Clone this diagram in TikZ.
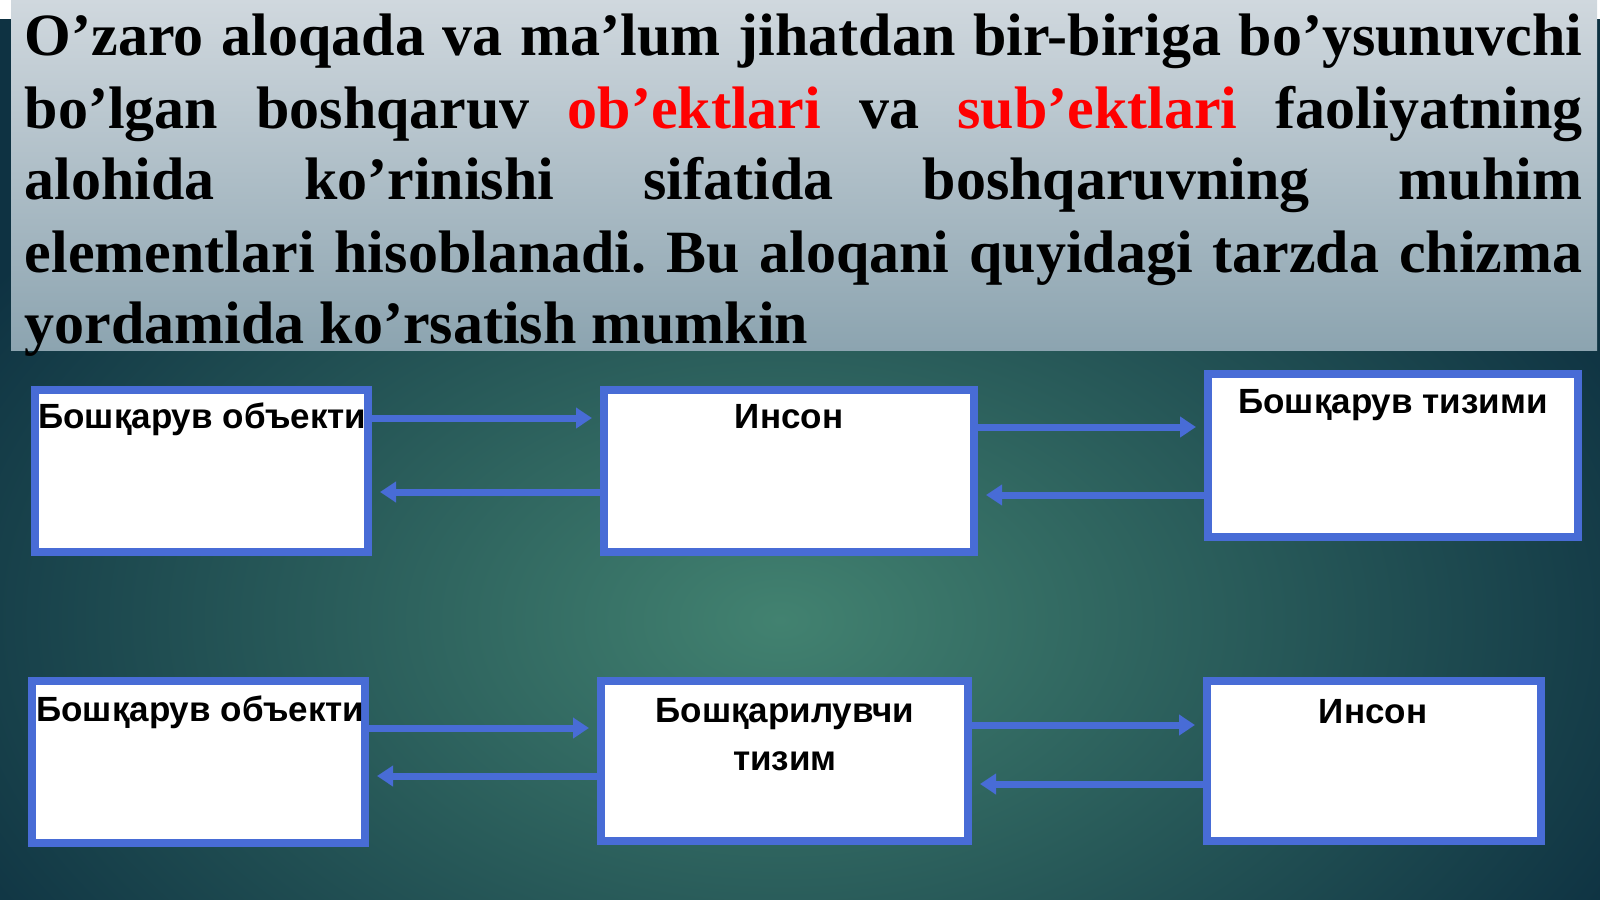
\documentclass[tikz,border=0pt]{standalone}
\usepackage{fontspec}
\setmainfont{Liberation Serif}
\setsansfont{Liberation Sans}
\usetikzlibrary{arrows.meta}
\definecolor{boxblue}{RGB}{72,108,214}
\definecolor{bgin}{RGB}{66,130,112}
\definecolor{bgout}{RGB}{14,50,66}
\definecolor{bantop}{RGB}{208,216,222}
\definecolor{banbot}{RGB}{140,164,176}
\tikzset{
  box/.style={draw=boxblue, line width=4pt, fill=white, inner sep=0pt},
  boxtext/.style={font=\sffamily\bfseries\fontsize{17.5}{24}\selectfont, inner sep=0pt, align=center},
  flow/.style={boxblue, line width=3.5pt, -{Triangle[length=8pt,width=10pt]}, shorten >=4pt}
}
\begin{document}
\begin{tikzpicture}[x=0.5pt,y=-0.5pt]
\useasboundingbox (0,0) rectangle (1600,899);
% background
\begin{scope}
\clip (0,0) rectangle (1600,899);
\shade[inner color=bgin, outer color=bgout] (-170,20) rectangle (1730,1220);
\end{scope}
% banner with the text
\shade[top color=bantop, bottom color=banbot] (11,0) rectangle (1597,350);
\node[anchor=base west, inner sep=0pt, text width=778.75pt, align=justify,
  font=\bfseries\fontsize{30}{36}\selectfont] (intro) at (24.5,56)
  {\frenchspacing\tolerance=10000\hbadness=10000\hyphenpenalty=10000
   O’zaro aloqada va ma’lum jihatdan bir-biriga bo’ysunuvchi\linebreak
   bo’lgan boshqaruv \textcolor{red}{ob’ektlari} va \textcolor{red}{sub’ektlari} faoliyatning\linebreak
   alohida ko’rinishi sifatida boshqaruvning muhim\linebreak
   elementlari hisoblanadi. Bu aloqani quyidagi tarzda chizma\linebreak
   yordamida ko’rsatish mumkin};
% boxes
\node[box, minimum width=166.5pt, minimum height=81pt] (obj1) at (201.5,471) {};
\node[box, minimum width=185pt, minimum height=81pt] (inson1) at (789,471) {};
\node[box, minimum width=185pt, minimum height=81.5pt] (tizim1) at (1393,455.5) {};
\node[box, minimum width=166.5pt, minimum height=81pt] (obj2) at (198.5,762) {};
\node[box, minimum width=183.5pt, minimum height=80pt] (tizim2) at (784.5,761) {};
\node[box, minimum width=167pt, minimum height=80pt] (inson2) at (1374,761) {};
% box texts
\node[boxtext, anchor=base west] (obj1t) at (38,428) {Бошқарув объекти};
\node[boxtext, anchor=base] (inson1t) at (789,428) {Инсон};
\node[boxtext, anchor=base] (tizim1t) at (1393,413) {Бошқарув тизими};
\node[boxtext, anchor=base west] (obj2t) at (36,721) {Бошқарув объекти};
\node[boxtext, anchor=base] (tizim2t) at (785,770) {Бошқарилувчи\\тизим};
\node[boxtext, anchor=base] (inson2t) at (1373,723) {Инсон};
% arrows
\draw[flow] ([yshift=26.5pt]obj1.east) -- ([yshift=26.5pt]inson1.west);
\draw[flow] ([yshift=-10.5pt]inson1.west) -- ([yshift=-10.5pt]obj1.east);
\draw[flow] ([yshift=22pt]inson1.east) -- ([yshift=14.25pt]tizim1.west);
\draw[flow] ([yshift=-19.75pt]tizim1.west) -- ([yshift=-12pt]inson1.east);
\draw[flow] ([yshift=17pt]obj2.east) -- ([yshift=16.5pt]tizim2.west);
\draw[flow] ([yshift=-7.5pt]tizim2.west) -- ([yshift=-7pt]obj2.east);
\draw[flow] ([yshift=18pt]tizim2.east) -- ([yshift=18pt]inson2.west);
\draw[flow] ([yshift=-11.5pt]inson2.west) -- ([yshift=-11.5pt]tizim2.east);
\end{tikzpicture}
\end{document}
